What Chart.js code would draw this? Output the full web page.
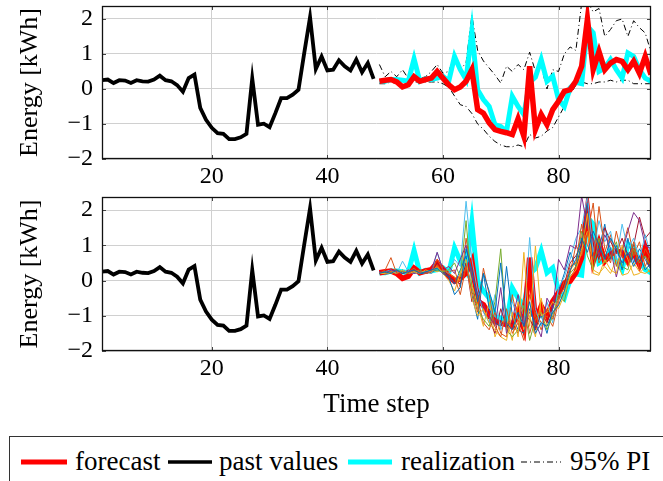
<!DOCTYPE html>
<html><head><meta charset="utf-8">
<script src="https://cdn.jsdelivr.net/npm/chart.js@4"></script>
<style>
html,body{margin:0;padding:0;background:#fff;width:663px;height:481px;overflow:hidden}
#c1{position:absolute;left:0;top:0}
#c2{position:absolute;left:0;top:190px}
#legend{position:absolute;left:9px;top:436px;width:700px;height:60px;border:1px solid #333;background:#fff;color:#000;white-space:nowrap}
#legend .it{position:absolute;top:9px;line-height:30px;font-family:"Liberation Serif",serif;font-size:27px}
#legend svg{position:absolute;top:21px}
</style></head>
<body>
<canvas id="c1" width="663" height="190"></canvas>
<canvas id="c2" width="663" height="246"></canvas>
<div id="legend">
  <svg style="left:11px" width="46" height="8"><line x1="0" y1="4" x2="46" y2="4" stroke="#ff0000" stroke-width="5"/></svg>
  <span class="it" style="left:65px">forecast</span>
  <svg style="left:158px" width="44" height="8"><line x1="0" y1="4" x2="44" y2="4" stroke="#000" stroke-width="3.5"/></svg>
  <span class="it" style="left:209px">past values</span>
  <svg style="left:338px" width="44" height="8"><line x1="0" y1="4" x2="44" y2="4" stroke="#00ffff" stroke-width="5"/></svg>
  <span class="it" style="left:391px">realization</span>
  <svg style="left:511px" width="40" height="8"><line x1="0" y1="4" x2="40" y2="4" stroke="#000" stroke-width="1" stroke-dasharray="6,3,1,3"/></svg>
  <span class="it" style="left:560px">95% PI</span>
</div>
<script>
// ---- data ----
const pastStart = 1;
const forecastStart = 49;
const xTickValues = [20, 40, 60, 80];
const yTickValues = [-2, -1, 0, 1, 2];

const pastValues = [
  0.25, 0.27, 0.17, 0.25, 0.24, 0.17, 0.25, 0.22,
  0.21, 0.27, 0.38, 0.25, 0.22, 0.11, -0.08, 0.31,
  0.41, -0.54, -0.88, -1.11, -1.26, -1.28, -1.43, -1.43,
  -1.38, -1.28, 0.30, -1.02, -0.99, -1.09, -0.69, -0.26,
  -0.26, -0.16, -0.02, 1.03, 2.05, 0.57, 0.93, 0.53,
  0.55, 0.82, 0.65, 0.53, 0.84, 0.48, 0.74, 0.29
];
const forecast = [
  0.22, 0.25, 0.27, 0.20, 0.06, 0.12, 0.35, 0.22,
  0.27, 0.31, 0.50, 0.31, 0.12, -0.02, 0.06, 0.22,
  0.55, -0.59, -0.69, -0.97, -1.16, -1.21, -1.25, -1.30,
  -0.85, -1.35, 0.65, -1.16, -0.73, -1.02, -0.59, -0.35,
  -0.07, -0.02, 0.22, 0.65, 2.00, 0.55, 1.07, 0.55,
  0.74, 0.84, 0.79, 0.55, 0.79, 0.45, 0.93, 0.41
];
const realization = [
  0.22, 0.22, 0.27, 0.27, 0.25, 0.22, 0.86, 0.22,
  0.29, 0.27, 0.31, 0.36, 0.22, 0.93, 0.55, 0.27,
  1.65, -0.02, -0.30, -0.50, -1.02, -1.07, -1.21, -0.21,
  -0.50, -0.73, 0.19, 0.34, 0.84, 0.22, 0.36, -0.30,
  -0.50, 0.03, 0.19, 0.15, 1.79, 1.60, 0.50, 0.60,
  0.84, 0.55, 0.31, 1.03, 0.93, 0.55, 0.31, 0.22
];
const piUpper = [
  0.70, 0.35, 0.50, 0.35, 0.55, 0.30, 0.85, 0.30,
  0.35, 0.50, 0.70, 0.45, 0.50, 0.95, 0.55, 0.75,
  2.10, 1.10, 0.80, 0.60, 0.40, 0.17, 0.65, 0.50,
  0.70, 0.55, 1.05, 0.50, 0.65, 0.00, 0.55, 0.50,
  1.00, 1.20, 1.10, 2.45, 2.50, 2.20, 2.30, 1.50,
  1.70, 1.95, 2.00, 1.50, 1.95, 1.75, 1.60, 1.05
];
const piLower = [
  0.15, 0.15, 0.20, 0.15, 0.05, 0.15, 0.20, 0.20,
  0.20, 0.20, 0.20, 0.15, 0.05, -0.20, -0.45, -0.50,
  -0.70, -1.00, -1.15, -1.35, -1.50, -1.60, -1.65, -1.65,
  -1.60, -1.65, -1.30, -1.40, -1.35, -1.20, -1.10, -0.80,
  -0.50, -0.15, 0.10, 0.20, 0.15, 0.15, 0.20, 0.20,
  0.25, 0.20, 0.25, 0.25, 0.15, 0.15, 0.15, 0.15
];
const scenario1 = [
  0.20, 0.25, 0.20, 0.30, 0.20, 0.25, 0.30, 0.20,
  0.25, 0.30, 0.35, 0.20, 0.10, -0.40, -0.20, 0.90,
  0.30, -0.60, 0.20, -0.30, -0.90, 0.50, -1.20, -1.40,
  -0.90, -1.30, -0.60, -1.50, -1.20, -1.30, -0.90, -0.70,
  -0.30, 0.30, 0.60, 1.20, 0.80, 1.40, 1.00, 0.60,
  1.20, 0.90, 0.50, 0.80, 0.40, 0.70, 0.30, 0.50
];
const scenario2 = [
  0.20, 0.30, 0.65, 0.20, 0.25, 0.20, 0.30, 0.25,
  0.20, 0.25, 0.60, 0.30, 0.20, 0.10, -0.40, 0.40,
  -0.30, -0.90, 0.35, -0.40, -1.30, -1.60, -0.80, -1.50,
  -1.20, -1.70, -0.40, -1.00, -1.40, -0.80, -1.10, -0.50,
  -0.20, 0.40, 0.50, 1.60, 1.00, 0.60, 2.10, 0.90,
  0.50, 1.40, 0.70, 0.40, 1.10, 0.30, 0.90, 0.60
];
const scenario3 = [
  0.20, 0.20, 0.25, 0.20, 0.30, 0.20, 0.25, 0.20,
  0.30, 0.25, 0.40, 0.20, 0.00, -0.30, 0.20, 0.60,
  -0.50, -1.00, -0.80, -1.20, -1.40, -1.60, -1.70, -0.90,
  -1.60, 0.80, -1.30, 0.98, -1.00, -0.90, -0.60, -0.80,
  -0.40, 0.10, 0.30, 0.80, 1.90, 0.20, 0.15, 0.60,
  0.30, 0.20, 1.00, 0.60, 0.15, 0.20, 0.40, 0.20
];
const scenario4 = [
  0.25, 0.20, 0.30, 0.25, 0.20, 0.30, 0.20, 0.25,
  0.20, 0.30, 0.80, 0.30, 0.40, 0.20, 0.60, 1.00,
  0.10, -0.40, -0.70, -1.00, -1.30, -0.20, -1.50, -1.10,
  -0.40, -1.30, -0.90, -1.20, -1.60, -0.50, -0.80, 0.60,
  0.30, 1.00, 0.90, 2.40, 1.50, 1.20, 0.70, 1.30,
  0.90, 0.10, 0.80, 1.40, 1.93, 1.70, 1.00, 0.90
];
const scenario5 = [
  0.20, 0.25, 0.20, 0.30, 0.25, 0.20, 0.25, 0.30,
  0.20, 0.30, 0.30, 0.25, 0.30, 0.50, 0.10, 1.70,
  -0.20, -0.80, -1.10, -1.30, -0.60, 0.90, -1.40, -1.60,
  -1.40, -0.70, -1.70, -1.10, -0.90, -1.40, -1.00, -0.40,
  -0.60, 0.20, 0.40, 1.40, 0.70, 0.30, 1.20, 0.50,
  0.70, 1.10, 0.40, 0.30, 0.90, 0.50, 0.70, 0.40
];
const scenario6 = [
  0.20, 0.25, 0.30, 0.20, 0.55, 0.25, 0.20, 0.25,
  0.25, 0.20, 0.80, 0.30, 0.20, 0.60, 0.40, 2.25,
  0.60, -0.30, -0.90, -1.20, -0.40, -1.40, -1.00, -0.60,
  -1.10, -1.20, 1.22, -0.80, -1.30, -0.60, -1.20, -0.20,
  0.10, 0.60, 1.20, 1.50, 2.40, 0.80, 1.70, 1.10,
  1.40, 0.60, 1.60, 0.90, 1.20, 0.60, 1.30, 0.70
];
const scenario7 = [
  0.25, 0.20, 0.25, 0.30, 0.20, 0.25, 0.20, 0.30,
  0.20, 0.25, 0.50, 0.35, 0.10, 0.00, -0.10, 0.50,
  -0.60, -0.20, -0.90, -1.10, -1.50, -0.80, -1.30, -1.20,
  -1.50, -1.00, -1.10, -1.40, -0.90, -1.20, -0.70, -0.50,
  -0.10, 0.50, 0.70, 1.00, 1.70, 1.00, 0.60, 1.50,
  1.10, 0.80, 1.20, 0.70, 1.00, 1.80, 1.20, 1.40
];
const scenario8 = [
  0.25, 0.20, 0.25, 0.20, 0.30, 0.20, 0.25, 0.20,
  0.20, 0.25, 0.30, 0.25, 0.15, -0.10, 0.30, 0.70,
  -0.40, -1.10, 0.20, -0.80, -1.20, -1.30, 0.40, -1.00,
  -1.40, -1.50, -0.80, -1.30, -1.00, -1.50, -0.80, -0.30,
  0.20, 0.80, 0.40, 1.00, 2.20, 0.60, 0.90, 1.60,
  0.60, 1.00, 0.30, 1.20, 0.50, 0.90, 0.60, 0.30
];
const scenario9 = [
  0.20, 0.25, 0.20, 0.25, 0.20, 0.25, 0.35, 0.20,
  0.25, 0.20, 0.45, 0.20, 0.25, 0.30, -0.20, 1.20,
  0.20, -0.50, -1.20, -1.40, -0.90, -1.50, -1.60, -0.40,
  -1.20, -0.50, -1.50, -0.90, -1.20, -1.00, -1.30, -0.60,
  0.00, 0.20, 1.00, 0.70, 1.30, 2.20, 0.50, 0.80,
  1.30, 0.40, 0.90, 1.50, 0.70, 1.10, 0.40, 0.80
];
const scenario10 = [
  0.20, 0.20, 0.20, 0.25, 0.20, 0.30, 0.20, 0.25,
  0.20, 0.30, 0.25, 0.30, 0.20, 0.10, 0.00, 0.40,
  -0.10, -0.70, -1.30, -0.60, -1.60, -1.20, -1.10, -1.70,
  -0.60, -1.40, -1.00, -1.60, -0.50, -1.30, -0.90, -0.70,
  -0.30, 0.30, 0.50, 0.90, 1.40, 0.30, 0.20, 0.40,
  0.20, 0.60, 0.15, 0.20, 0.50, 0.25, 0.20, 0.30
];
const scenarios = [scenario1, scenario2, scenario3, scenario4, scenario5,
                   scenario6, scenario7, scenario8, scenario9, scenario10];
const scenarioColors = ['#0072BD', '#D95319', '#EDB120', '#7E2F8E', '#77AC30', '#4DBEEE', '#A2142F'];

// ---- helpers ----
const FONT = "'Liberation Serif', 'Times New Roman', serif";
const pts = (vals, start) => vals.map((v, i) => ({x: start + i, y: v}));
const fmt = v => (v < 0 ? '\u2212' + Math.abs(v) : String(v));

const frame = {
  id: 'frame',
  afterDraw(chart) {
    const {ctx, chartArea: a, scales} = chart;
    ctx.save();
    ctx.strokeStyle = '#444';
    ctx.lineWidth = 1;
    const tl = 4;
    xTickValues.forEach(v => {
      const px = Math.round(scales.x.getPixelForValue(v)) + 0.5;
      ctx.beginPath();
      ctx.moveTo(px, a.bottom); ctx.lineTo(px, a.bottom - tl);
      ctx.moveTo(px, a.top); ctx.lineTo(px, a.top + tl);
      ctx.stroke();
    });
    yTickValues.forEach(v => {
      const py = Math.round(scales.y.getPixelForValue(v)) + 0.5;
      ctx.beginPath();
      ctx.moveTo(a.left, py); ctx.lineTo(a.left + tl, py);
      ctx.moveTo(a.right, py); ctx.lineTo(a.right - tl, py);
      ctx.stroke();
    });
    ctx.strokeStyle = '#111';
    ctx.lineWidth = 1.3;
    ctx.strokeRect(a.left + 0.5, a.top + 0.5, a.right - a.left - 1, a.bottom - a.top - 1);
    ctx.restore();
  }
};

function makeScales(xAxisHeight, showXTitle) {
  return {
    x: {
      type: 'linear', min: 1, max: 96,
      afterBuildTicks: s => { s.ticks = xTickValues.map(v => ({value: v})); },
      afterFit: s => { s.height = xAxisHeight; s.paddingLeft = 0; s.paddingRight = 0; },
      grid: {color: '#d0d0d0', lineWidth: 1, drawTicks: false},
      border: {display: false},
      ticks: {font: {family: FONT, size: 24}, color: '#000', padding: 3, maxRotation: 0, autoSkip: false},
      title: {display: showXTitle, text: 'Time step', font: {family: FONT, size: 27}, color: '#000',
              padding: {top: 0, bottom: 15}}
    },
    y: {
      type: 'linear', min: -2, max: 2.37,
      afterBuildTicks: s => { s.ticks = yTickValues.map(v => ({value: v})); },
      afterFit: s => { s.width = 102; s.paddingTop = 0; s.paddingBottom = 0; },
      grid: {color: '#d0d0d0', lineWidth: 1, drawTicks: false},
      border: {display: false},
      ticks: {font: {family: FONT, size: 24}, color: '#000', padding: 9, callback: v => fmt(v)},
      title: {display: true, text: 'Energy [kWh]', font: {family: FONT, size: 26}, color: '#000',
              padding: {top: 15, bottom: 0}}
    }
  };
}

const commonOpts = (padTop, xAxisHeight, showXTitle) => ({
  responsive: false, animation: false, devicePixelRatio: 1,
  layout: {padding: {top: padTop, right: 12, left: 0, bottom: 0}},
  plugins: {legend: {display: false}, tooltip: {enabled: false}},
  elements: {point: {radius: 0}, line: {tension: 0}},
  scales: makeScales(xAxisHeight, showXTitle)
});

const line = (label, data, color, width, extra) => Object.assign({
  label, data, borderColor: color, backgroundColor: color, borderWidth: width,
  pointRadius: 0, fill: false, borderJoinStyle: 'miter', borderCapStyle: 'butt'
}, extra || {});

// ---- top chart ----
new Chart(document.getElementById('c1'), {
  type: 'line',
  data: {datasets: [
    line('forecast', pts(forecast, forecastStart), '#ff0000', 5.5),
    line('past values', pts(pastValues, pastStart), '#000000', 3.8),
    line('realization', pts(realization, forecastStart), '#00ffff', 5),
    line('95% PI', pts(piUpper, forecastStart), '#000000', 1, {borderDash: [6, 3, 1, 3]}),
    line('95% PI lower', pts(piLower, forecastStart), '#000000', 1, {borderDash: [6, 3, 1, 3]})
  ]},
  options: commonOpts(6, 31, false),
  plugins: [frame]
});

// ---- bottom chart ----
const ds2 = scenarios.map((s, i) => line('scenario ' + (i + 1), pts(s, forecastStart),
                                         scenarioColors[i % scenarioColors.length], 1));
ds2.push(line('forecast', pts(forecast, forecastStart), '#ff0000', 5.5));
ds2.push(line('past values', pts(pastValues, pastStart), '#000000', 3.8));
ds2.push(line('realization', pts(realization, forecastStart), '#00ffff', 5));
new Chart(document.getElementById('c2'), {
  type: 'line',
  data: {datasets: ds2},
  options: commonOpts(7, 85, true),
  plugins: [frame]
});
</script>
</body></html>
